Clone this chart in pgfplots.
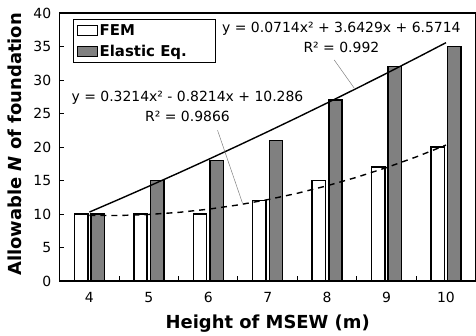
\documentclass[border=0pt]{standalone}
\usepackage{fontspec}
\setmainfont{DejaVu Sans}
\usepackage{pgfplots}
\pgfplotsset{compat=1.18}
\definecolor{barGray}{RGB}{128,128,128}
\begin{document}
\begin{tikzpicture}
\begin{axis}[
  at={(0,0)}, anchor=south west,
  scale only axis, width=416bp, height=268bp,
  xmin=3.5, xmax=10.5, ymin=0, ymax=40,
  xtick={4,5,...,10}, minor xtick={4.5,5.5,...,9.5},
  ytick={0,5,...,40},
  xtick pos=bottom, ytick pos=left,
  tick align=inside,
  major tick length=4bp, minor tick length=5bp,
  major x tick style={draw=none},
  every tick/.style={black, line width=1bp},
  minor tick style={black, line width=1bp},
  axis line style={line width=1.3bp},
  /pgf/number format/assume math mode=true,
  tick label style={font=\fontsize{14}{16}\selectfont},
  yticklabel style={xshift=-5bp},
  xticklabel style={yshift=-8bp},
  xlabel={\bfseries Height of MSEW (m)},
  ylabel={\bfseries Allowable \textit{N} of foundation},
  label style={font=\fontsize{18}{20}\selectfont},
  xlabel style={at={(axis description cs:0.5,-0.16)}, anchor=center},
  ylabel style={at={(axis description cs:-0.107,0.51)}, anchor=center, rotate=0},
  legend style={at={(0.032,0.978)}, anchor=north west, draw=black, line width=0.8bp,
    font=\bfseries\fontsize{15}{17}\selectfont, inner sep=3.5bp, row sep=5bp,
    nodes={inner sep=1.5bp}},
  legend cell align=left,
  legend image code/.code={\draw[#1, line width=1.2bp] (0bp,-5bp) rectangle (20bp,5bp);},
]
\addplot[ybar, bar width=0.225, bar shift=-0.14, fill=white, draw=black, line width=1.5bp]
  coordinates {(4,10) (5,10) (6,10) (7,12) (8,15) (9,17) (10,20)};
\addlegendentry{FEM}
\addplot[ybar, bar width=0.225, bar shift=0.14, fill=barGray, draw=black, line width=1.5bp]
  coordinates {(4,10) (5,15) (6,18) (7,21) (8,27) (9,32) (10,35)};
\addlegendentry{Elastic Eq.\hspace*{24bp}}
% Elastic Eq. trendline (polynomial, as drawn)
\addplot[black, line width=1.4bp, forget plot] coordinates {
  (4,10.286) (4.5,12.197) (5,14.143) (5.5,16.125) (6,18.143) (6.5,20.196) (7,22.285)
  (7.5,24.410) (8,26.571) (8.5,28.767) (9,30.999) (9.5,33.267) (10,35.570)};
% FEM trendline
\addplot[black, line width=1.4bp, dash pattern=on 6bp off 5bp, forget plot] coordinates {
  (4,9.786) (4.5,9.777) (5,9.929) (5.5,10.241) (6,10.714) (6.5,11.348) (7,12.143)
  (7.5,13.098) (8,14.214) (8.5,15.491) (9,16.928) (9.5,18.526) (10,20.285)};
\draw[gray, line width=0.5bp] (axis cs:8.119,33.0) -- (axis cs:8.455,28.8);
\draw[gray, line width=0.5bp] (axis cs:6.156,22.5) -- (axis cs:6.575,11.64);
\node[align=center, inner sep=0pt, font=\fontsize{14}{20}\selectfont] at (axis cs:8.24,36.4)
  {y = 0.0714x² + 3.6429x + 6.5714\\R² = 0.992};
\node[align=center, inner sep=0pt, font=\fontsize{14}{20}\selectfont] at (axis cs:5.65,26.05)
  {y = 0.3214x² - 0.8214x + 10.286\\R² = 0.9866};
\end{axis}
\pgfresetboundingbox
\path (-59.7bp,-55bp) rectangle (416.3bp,281bp);
\end{tikzpicture}
\end{document}
